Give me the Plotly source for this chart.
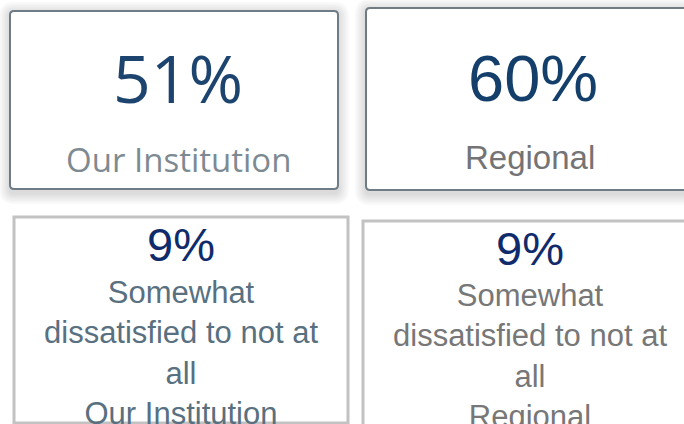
import plotly.graph_objects as go

# ---- data ----
groups = ["Our Institution", "Regional"]
satisfied_pct = [51, 60]
dissatisfied_pct = [9, 9]
dissatisfied_caption_lines = ["Somewhat", "dissatisfied to not at", "all"]

W, H = 684, 424

fig = go.Figure()
# invisible trace to establish axes
fig.add_trace(go.Scatter(x=[0, W], y=[0, H], mode="markers",
                         marker=dict(opacity=0), hoverinfo="skip", showlegend=False))


def rrect(x0, y0, x1, y1, r):
    return (f"M {x0+r},{y0} L {x1-r},{y0} Q {x1},{y0} {x1},{y0+r} "
            f"L {x1},{y1-r} Q {x1},{y1} {x1-r},{y1} L {x0+r},{y1} "
            f"Q {x0},{y1} {x0},{y1-r} L {x0},{y0+r} Q {x0},{y0} {x0+r},{y0} Z")


shapes = []
# top cards with soft shadow
top_cards = [(10, 11, 338, 189), (366, 8, 720, 190)]
for (x0, y0, x1, y1) in top_cards:
    for k in range(7, 0, -1):
        e = k * 1.6
        shapes.append(dict(type="path", path=rrect(x0 - e, y0 - e + 2, x1 + e, y1 + e + 4, 4 + e),
                           xref="x", yref="y", line=dict(width=0),
                           fillcolor="rgba(0,0,0,0.02)", layer="below"))
    shapes.append(dict(type="path", path=rrect(x0, y0, x1, y1, 4), xref="x", yref="y",
                       line=dict(color="#6f7c86", width=2), fillcolor="white", layer="below"))

# bottom cards
bottom_cards = [(14, 217, 348, 423), (363, 221, 720, 460)]
for (x0, y0, x1, y1) in bottom_cards:
    shapes.append(dict(type="rect", x0=x0, y0=y0, x1=x1, y1=y1, xref="x", yref="y",
                       line=dict(color="#c2c2c2", width=3), fillcolor="white", layer="below"))

annotations = []
# top value cards
top_value_font = ["Open Sans", "Liberation Sans"]
top_value_size = [66, 65]
top_value_color = ["#1d446f", "#143f6b"]
top_label_size = [33, 33]
top_label_color = ["#7e8a91", "#747474"]
top_cx = [178, 533]
top_label_cx = [178, 530]
top_value_y = [77, 78]
top_label_y = [159, 157]
for i, g in enumerate(groups):
    annotations.append(dict(x=top_cx[i], y=top_value_y[i], xref="x", yref="y",
                            text=f"{satisfied_pct[i]}%", showarrow=False,
                            xanchor="center", yanchor="middle",
                            font=dict(family=top_value_font[i], size=top_value_size[i],
                                      color=top_value_color[i])))
    annotations.append(dict(x=top_label_cx[i], y=top_label_y[i], xref="x", yref="y",
                            text=g, showarrow=False, xanchor="center", yanchor="middle",
                            font=dict(family=top_value_font[i], size=top_label_size[i],
                                      color=top_label_color[i])))

# bottom cards
bot_cx = [181, 530]
bot_value_y = [244, 248]
bot_caption_top = [273, 276]
bot_caption_color = ["#587080", "#777777"]
for i, g in enumerate(groups):
    annotations.append(dict(x=bot_cx[i], y=bot_value_y[i], xref="x", yref="y",
                            text=f"{dissatisfied_pct[i]}%", showarrow=False,
                            xanchor="center", yanchor="middle",
                            font=dict(family="Liberation Sans", size=47, color="#0f2b6b")))
    annotations.append(dict(x=bot_cx[i], y=bot_caption_top[i], xref="x", yref="y",
                            text="<br>".join(dissatisfied_caption_lines + [g]),
                            showarrow=False, xanchor="center", yanchor="top", align="center",
                            font=dict(family="Liberation Sans", size=31,
                                      color=bot_caption_color[i])))

fig.update_layout(
    width=W, height=H, margin=dict(l=0, r=0, t=0, b=0),
    paper_bgcolor="white", plot_bgcolor="white",
    xaxis=dict(range=[0, W], visible=False, fixedrange=True),
    yaxis=dict(range=[H, 0], visible=False, fixedrange=True),
    shapes=shapes, annotations=annotations, showlegend=False,
)
fig.write_html("out.html",
               config={"displayModeBar": False},
               post_script="document.body.style.margin='0px';document.body.style.overflow='hidden';")
